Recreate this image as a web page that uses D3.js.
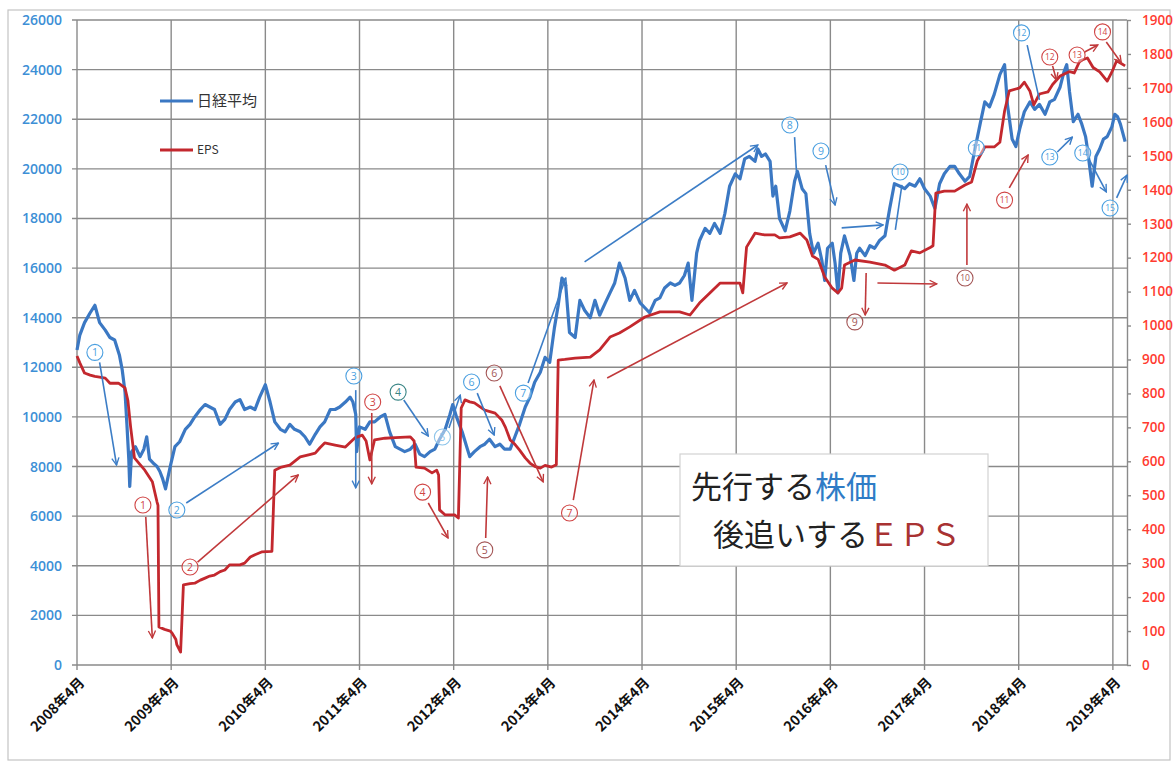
<!DOCTYPE html>
<html>
<head>
<meta charset="utf-8">
<title>先行する株価 後追いするEPS</title>
<script src="https://d3js.org/d3.v7.min.js"></script>
<style>
  body { margin: 0; background: #fff; }
  svg { display: block; font-family: "Noto Sans CJK JP", "Noto Sans", sans-serif; }
  .grid line { stroke: #8a8a8a; stroke-width: 1.4px; }
  .axisL text { fill: #3d8fd6; font-family: "Open Sans", sans-serif; font-weight: 600; font-size: 14px; }
  .axisR text { fill: #ff3b30; font-family: "Open Sans", sans-serif; font-weight: 600; font-size: 13.5px; }
  .axisR path, .axisR line { stroke: #8a8a8a; stroke-width: 1.4px; }
  .xlab { font-size: 14px; font-weight: bold; fill: #111; }
</style>
</head>
<body>
<svg id="chart" width="1176" height="762"></svg>
<script>
// ---- data (decimal year, value) ----
const nikkei = [
  [2008.25,12700],[2008.28,13300],[2008.33,13800],[2008.39,14200],[2008.44,14500],[2008.49,13800],[2008.55,13500],
  [2008.60,13200],[2008.65,13100],[2008.70,12500],[2008.73,11900],[2008.76,11000],[2008.78,9700],[2008.80,8300],
  [2008.81,7200],[2008.83,8600],[2008.87,8800],[2008.92,8400],[2008.96,8700],[2008.99,9200],[2009.02,8300],
  [2009.07,8100],[2009.10,8000],[2009.13,7800],[2009.16,7500],[2009.19,7100],[2009.24,8000],[2009.29,8800],
  [2009.34,9000],[2009.40,9500],[2009.45,9700],[2009.50,10000],[2009.56,10300],[2009.61,10500],[2009.66,10400],
  [2009.71,10300],[2009.77,9700],[2009.82,9900],[2009.87,10300],[2009.93,10600],[2009.98,10700],[2010.03,10300],
  [2010.09,10400],[2010.14,10300],[2010.19,10800],[2010.25,11300],[2010.30,10600],[2010.35,9800],[2010.41,9500],
  [2010.46,9400],[2010.51,9700],[2010.56,9500],[2010.62,9400],[2010.67,9200],[2010.72,8900],[2010.78,9300],
  [2010.83,9600],[2010.88,9800],[2010.94,10300],[2010.99,10300],[2011.04,10400],[2011.10,10600],[2011.15,10800],
  [2011.18,10600],[2011.21,10100],[2011.22,8600],[2011.25,9600],[2011.31,9500],[2011.36,9800],[2011.41,9800],
  [2011.47,10000],[2011.52,10100],[2011.57,9400],[2011.63,8800],[2011.68,8700],[2011.73,8600],[2011.79,8700],
  [2011.84,8900],[2011.89,8500],[2011.94,8400],[2012.00,8600],[2012.05,8700],[2012.10,9100],[2012.16,9500],
  [2012.21,10100],[2012.24,10500],[2012.28,10000],[2012.34,9400],[2012.38,8900],[2012.42,8400],[2012.47,8600],
  [2012.53,8800],[2012.58,8900],[2012.63,9100],[2012.69,8800],[2012.74,8900],[2012.79,8700],[2012.85,8700],
  [2012.90,9200],[2012.95,9700],[2013.01,10400],[2013.06,10800],[2013.11,11400],[2013.17,11800],[2013.22,12400],
  [2013.27,12200],[2013.32,13600],[2013.36,14500],[2013.40,15600],[2013.44,15300],[2013.48,13400],[2013.54,13200],
  [2013.59,14700],[2013.64,14300],[2013.70,14000],[2013.75,14700],[2013.80,14100],[2013.86,14600],[2013.91,15000],
  [2013.96,15400],[2014.01,16200],[2014.07,15600],[2014.12,14700],[2014.17,15100],[2014.23,14600],[2014.28,14400],
  [2014.33,14200],[2014.39,14700],[2014.44,14800],[2014.49,15200],[2014.55,15400],[2014.60,15300],[2014.65,15400],
  [2014.70,15700],[2014.74,16200],[2014.78,14700],[2014.83,16600],[2014.86,17100],[2014.92,17600],[2014.97,17400],
  [2015.02,17800],[2015.08,17400],[2015.13,18200],[2015.18,19300],[2015.24,19800],[2015.29,19600],[2015.34,20400],
  [2015.39,20500],[2015.45,20300],[2015.48,20800],[2015.52,20500],[2015.56,20600],[2015.61,20300],[2015.64,18900],
  [2015.67,19300],[2015.71,18000],[2015.77,17500],[2015.82,18300],[2015.87,19500],[2015.90,19900],[2015.95,19200],
  [2015.99,19000],[2016.03,17400],[2016.07,16600],[2016.12,17000],[2016.16,16300],[2016.19,15500],[2016.22,16800],
  [2016.27,17000],[2016.30,16200],[2016.33,15000],[2016.36,16600],[2016.40,17300],[2016.46,16500],[2016.50,15500],
  [2016.53,16600],[2016.56,16800],[2016.62,16500],[2016.67,16900],[2016.72,16800],[2016.77,17100],[2016.83,17300],
  [2016.88,18400],[2016.93,19400],[2016.99,19300],[2017.04,19200],[2017.09,19400],[2017.15,19300],[2017.20,19600],
  [2017.25,19200],[2017.31,18900],[2017.36,18400],[2017.41,19400],[2017.46,19800],[2017.52,20100],[2017.57,20100],
  [2017.62,19800],[2017.68,19500],[2017.73,19700],[2017.78,20700],[2017.84,21800],[2017.89,22700],[2017.94,22500],
  [2017.99,23000],[2018.05,23800],[2018.10,24200],[2018.13,22600],[2018.18,21200],[2018.22,20900],[2018.26,21600],
  [2018.31,22300],[2018.37,22700],[2018.42,22400],[2018.47,22600],[2018.53,22200],[2018.58,22700],[2018.63,22800],
  [2018.69,23300],[2018.73,23900],[2018.76,24200],[2018.79,23100],[2018.83,21900],[2018.88,22200],[2018.92,21800],
  [2018.96,21300],[2018.98,20800],[2019.03,19300],[2019.07,20500],[2019.11,20800],[2019.15,21200],[2019.19,21300],
  [2019.24,21700],[2019.27,22200],[2019.30,22100],[2019.33,21800],[2019.38,21100]
];

const eps = [
  [2008.25,910],[2008.28,890],[2008.33,860],[2008.39,854],[2008.44,850],[2008.49,848],[2008.55,845],[2008.60,830],
  [2008.69,830],[2008.76,816],[2008.79,780],[2008.82,700],[2008.86,610],[2008.92,590],[2008.97,574],[2009.05,540],
  [2009.10,480],[2009.11,470],[2009.12,112],[2009.18,105],[2009.24,100],[2009.26,94],[2009.30,75],[2009.31,60],
  [2009.35,38],[2009.38,236],[2009.45,240],[2009.50,241],[2009.56,250],[2009.61,256],[2009.66,262],[2009.71,265],
  [2009.77,275],[2009.82,280],[2009.87,295],[2009.98,295],[2010.03,300],[2010.09,318],[2010.14,325],[2010.21,333],
  [2010.32,335],[2010.35,574],[2010.41,582],[2010.51,589],[2010.62,613],[2010.72,620],[2010.78,624],[2010.83,640],
  [2010.88,654],[2010.99,648],[2011.10,642],[2011.20,669],[2011.28,677],[2011.32,660],[2011.36,604],[2011.39,640],
  [2011.41,663],[2011.52,668],[2011.63,670],[2011.79,672],[2011.83,660],[2011.85,583],[2011.94,580],[2012.02,566],
  [2012.07,574],[2012.09,560],[2012.10,457],[2012.16,442],[2012.26,442],[2012.30,433],[2012.33,757],[2012.37,781],
  [2012.42,775],[2012.47,772],[2012.58,751],[2012.69,742],[2012.76,722],[2012.80,700],[2012.85,663],[2012.90,650],
  [2012.95,633],[2013.01,610],[2013.06,595],[2013.11,585],[2013.17,580],[2013.22,588],[2013.29,583],[2013.34,590],
  [2013.36,898],[2013.43,900],[2013.54,904],[2013.70,907],[2013.80,928],[2013.91,966],[2014.01,978],[2014.12,996],
  [2014.28,1025],[2014.44,1040],[2014.65,1040],[2014.76,1031],[2014.86,1066],[2014.97,1096],[2015.08,1125],
  [2015.29,1125],[2015.32,1096],[2015.36,1231],[2015.45,1272],[2015.55,1267],[2015.66,1267],[2015.71,1258],
  [2015.82,1261],[2015.93,1272],[2016.00,1252],[2016.06,1205],[2016.12,1195],[2016.19,1143],[2016.27,1110],
  [2016.33,1096],[2016.37,1110],[2016.40,1178],[2016.51,1193],[2016.67,1187],[2016.83,1178],[2016.93,1163],
  [2017.04,1178],[2017.11,1220],[2017.20,1214],[2017.31,1230],[2017.34,1235],[2017.37,1390],[2017.46,1396],
  [2017.57,1396],[2017.68,1414],[2017.75,1423],[2017.81,1485],[2017.89,1526],[2017.99,1526],[2018.05,1540],
  [2018.10,1632],[2018.15,1691],[2018.26,1700],[2018.31,1717],[2018.37,1690],[2018.41,1650],[2018.47,1682],
  [2018.56,1688],[2018.61,1710],[2018.69,1735],[2018.79,1748],[2018.84,1744],[2018.90,1780],[2018.98,1788],
  [2019.04,1760],[2019.11,1747],[2019.19,1720],[2019.24,1747],[2019.29,1780],[2019.38,1765]
];

const yearTicks = d3.range(2008, 2020);           // labelled "YYYY年4月"
const leftTicks = d3.range(0, 26001, 2000);
const rightTicks = d3.range(0, 1901, 100);
const legendItems = ["日経平均", "EPS"];

// annotations, in (year, 日経平均 value) coordinates
const blueNotes = [
  {n:"1",  at:[2008.44,12600], from:[2008.49,12200], to:[2008.67,8060],  head:true},
  {n:"2",  at:[2009.31,6250],  from:[2009.41,6530],  to:[2010.39,8950],  head:true},
  {n:"3",  at:[2011.19,11650], from:[2011.21,11080], to:[2011.21,7140],  head:true},
  {n:"4",  at:[2011.66,11000], from:[2011.72,10680], to:[2011.98,9230],  head:true},
  {n:"5",  at:[2012.13,9190],  from:[2012.20,9550],  to:[2012.32,10880], head:true},
  {n:"6",  at:[2012.44,11410], from:[2012.50,10960], to:[2012.68,9270],  head:true},
  {n:"7",  at:[2012.99,10960], from:[2013.04,11370], to:[2013.44,15600], head:true},
  {n:"",   at:null,            from:[2013.64,16250], to:[2015.48,20960], head:true},
  {n:"8",  at:[2015.82,21770], from:[2015.87,21280], to:[2015.89,19870], head:false},
  {n:"9",  at:[2016.15,20720], from:[2016.20,20150], to:[2016.30,18540], head:true},
  {n:"",   at:null,            from:[2016.37,17620], to:[2016.81,17740], head:true},
  {n:"10", at:[2016.99,19870], from:[2017.01,19350], to:[2016.94,17540], head:false},
  {n:"11", at:[2017.80,20840], from:null, to:null, head:false},
  {n:"12", at:[2018.28,25480], from:[2018.34,24990], to:[2018.47,22780], head:false},
  {n:"13", at:[2018.58,20480], from:[2018.66,20680], to:[2018.82,21280], head:true},
  {n:"14", at:[2018.93,20640], from:[2019.00,20360], to:[2019.18,19070], head:true},
  {n:"15", at:[2019.22,18420], from:[2019.29,18830], to:[2019.40,19750], head:true}
];
const redNotes = [
  {n:"1",  at:[2008.95,6450],  from:[2008.98,5970],  to:[2009.05,1090],  head:true},
  {n:"2",  at:[2009.45,3950],  from:[2009.53,4150],  to:[2010.60,7660],  head:true},
  {n:"3",  at:[2011.39,10600], from:[2011.38,10160], to:[2011.38,7300],  head:true},
  {n:"4",  at:[2011.92,6970],  from:[2011.98,6530],  to:[2012.19,5120],  head:true},
  {n:"5",  at:[2012.58,4640],  from:[2012.59,5120],  to:[2012.61,7580],  head:true},
  {n:"6",  at:[2012.68,11770], from:[2012.74,11250], to:[2013.20,7380],  head:true},
  {n:"7",  at:[2013.48,6130],  from:[2013.52,6650],  to:[2013.74,11490], head:true},
  {n:"",   at:null,            from:[2013.88,11570], to:[2015.79,15400], head:true},
  {n:"9",  at:[2016.51,13830], from:[2016.63,15800], to:[2016.62,14110], head:true},
  {n:"",   at:null,            from:[2016.75,15400], to:[2017.38,15360], head:true},
  {n:"10", at:[2017.68,15600], from:[2017.70,16120], to:[2017.70,18580], head:true},
  {n:"11", at:[2018.10,18740], from:[2018.15,19230], to:[2018.35,20560], head:true},
  {n:"12", at:[2018.58,24510], from:[2018.61,24150], to:[2018.65,23580], head:true},
  {n:"13", at:[2018.87,24590], from:[2018.95,24710], to:[2019.09,24990], head:true},
  {n:"14", at:[2019.14,25520], from:[2019.18,25110], to:[2019.34,24270], head:true}
];

// ---- layout ----
const svg = d3.select("#chart");
const W = +svg.attr("width"), H = +svg.attr("height");
const margin = {top: 20, right: 49, bottom: 97, left: 77};
const plotW = W - margin.left - margin.right;
const plotH = H - margin.top - margin.bottom;
const BLUE = "#3b78c3", RED = "#c3282e";

const x = d3.scaleLinear().domain([2008.25, 2019.40]).range([margin.left, margin.left + plotW]);
const yL = d3.scaleLinear().domain([0, 26000]).range([margin.top + plotH, margin.top]);
const yR = d3.scaleLinear().domain([0, 1900]).range([margin.top + plotH, margin.top]);

// outer frame
svg.append("rect").attr("x", 8).attr("y", 10).attr("width", W - 14).attr("height", H - 12)
  .attr("fill", "none").attr("stroke", "#c4c4c4").attr("stroke-width", 1.2);

// grid
const grid = svg.append("g").attr("class", "grid");
grid.selectAll(".h").data(leftTicks).join("line").attr("class", "h")
  .attr("x1", margin.left - 5).attr("x2", margin.left + plotW)
  .attr("y1", d => yL(d)).attr("y2", d => yL(d));
grid.selectAll(".v").data(yearTicks).join("line").attr("class", "v")
  .attr("x1", d => x(d + 0.25)).attr("x2", d => x(d + 0.25))
  .attr("y1", margin.top).attr("y2", margin.top + plotH + 5);

// axes
svg.append("g").attr("class", "axisL").attr("transform", `translate(${margin.left},0)`)
  .call(d3.axisLeft(yL).tickValues(leftTicks).tickFormat(d3.format("d")).tickSize(0).tickPadding(15))
  .call(g => g.select(".domain").remove());
svg.append("g").attr("class", "axisR").attr("transform", `translate(${margin.left + plotW},0)`)
  .call(d3.axisRight(yR).tickValues(rightTicks).tickFormat(d3.format("d"))
    .tickSize(4).tickSizeOuter(0).tickPadding(11));

svg.append("g").selectAll("text").data(yearTicks).join("text")
  .attr("class", "xlab")
  .attr("transform", d => `translate(${x(d + 0.25) + 5},${margin.top + plotH + 15}) rotate(-45)`)
  .attr("text-anchor", "end").attr("dy", "0.35em")
  .text(d => d + "年4月");

// series
svg.append("path").datum(nikkei)
  .attr("fill", "none").attr("stroke", BLUE).attr("stroke-width", 3.2).attr("stroke-linejoin", "round")
  .attr("d", d3.line().x(d => x(d[0])).y(d => yL(d[1])));
svg.append("path").datum(eps)
  .attr("fill", "none").attr("stroke", RED).attr("stroke-width", 2.8).attr("stroke-linejoin", "round")
  .attr("d", d3.line().x(d => x(d[0])).y(d => yR(d[1])));

// legend
const lg = svg.append("g").selectAll("g").data(legendItems).join("g")
  .attr("transform", (d, i) => `translate(160,${101 + i * 49})`);
lg.append("line").attr("x1", 0).attr("x2", 33)
  .attr("stroke", (d, i) => i ? RED : BLUE).attr("stroke-width", 3);
lg.append("text").attr("x", 37).attr("dy", "0.35em")
  .attr("font-size", (d, i) => i ? 12 : 15).attr("fill", "#333").text(d => d);

// annotations
const defs = svg.append("defs");
[["hb", "#3c7dc6"], ["hr", "#c0393b"]].forEach(([id, c]) => {
  defs.append("marker").attr("id", id).attr("viewBox", "0 0 10 10")
    .attr("refX", 9).attr("refY", 5).attr("markerWidth", 9).attr("markerHeight", 9)
    .attr("markerUnits", "userSpaceOnUse").attr("orient", "auto")
    .append("path").attr("d", "M1,1 L9,5 L1,9").attr("fill", "none")
    .attr("stroke", c).attr("stroke-width", 1.5);
});

function drawNotes(notes, lineColor, marker, circleColor) {
  const g = svg.append("g");
  notes.filter(d => d.from).forEach(d => {
    g.append("line")
      .attr("x1", x(d.from[0])).attr("y1", yL(d.from[1]))
      .attr("x2", x(d.to[0])).attr("y2", yL(d.to[1]))
      .attr("stroke", lineColor).attr("stroke-width", 1.6)
      .attr("marker-end", d.head ? `url(#${marker})` : null);
  });
  notes.filter(d => d.at).forEach(d => {
    const c = circleColor(d.n);
    g.append("circle").attr("cx", x(d.at[0])).attr("cy", yL(d.at[1])).attr("r", 8)
      .attr("fill", "#fff").attr("fill-opacity", 0.45).attr("stroke", c).attr("stroke-width", 1.1);
    g.append("text").attr("x", x(d.at[0])).attr("y", yL(d.at[1])).attr("dy", "0.36em")
      .attr("text-anchor", "middle").attr("font-family", "Open Sans, sans-serif")
      .attr("font-size", d.n.length > 1 ? 8.5 : 10.5).attr("fill", c).text(d.n);
  });
}
drawNotes(blueNotes, "#3c7dc6", "hb", n => n === "4" ? "#3a8585" : n === "5" ? "#8cc4ea" : "#4a9fe0");
drawNotes(redNotes, "#c0393b", "hr", n => ["5", "6", "9", "10"].includes(n) ? "#a35555" : "#d04545");

// text box
const box = svg.append("g").attr("transform", "translate(680,454)");
box.append("rect").attr("width", 308).attr("height", 112)
  .attr("fill", "#fff").attr("stroke", "#d2d2d2").attr("stroke-width", 1.2);
const t1 = box.append("text").attr("x", 11).attr("y", 44).attr("font-size", 31);
t1.append("tspan").attr("fill", "#222").text("先行する");
t1.append("tspan").attr("fill", "#2f7cc6").text("株価");
const t2 = box.append("text").attr("x", 33).attr("y", 92).attr("font-size", 31);
t2.append("tspan").attr("fill", "#222").text("後追いする");
t2.append("tspan").attr("fill", "#a83232").text("ＥＰＳ");
</script>
</body>
</html>
